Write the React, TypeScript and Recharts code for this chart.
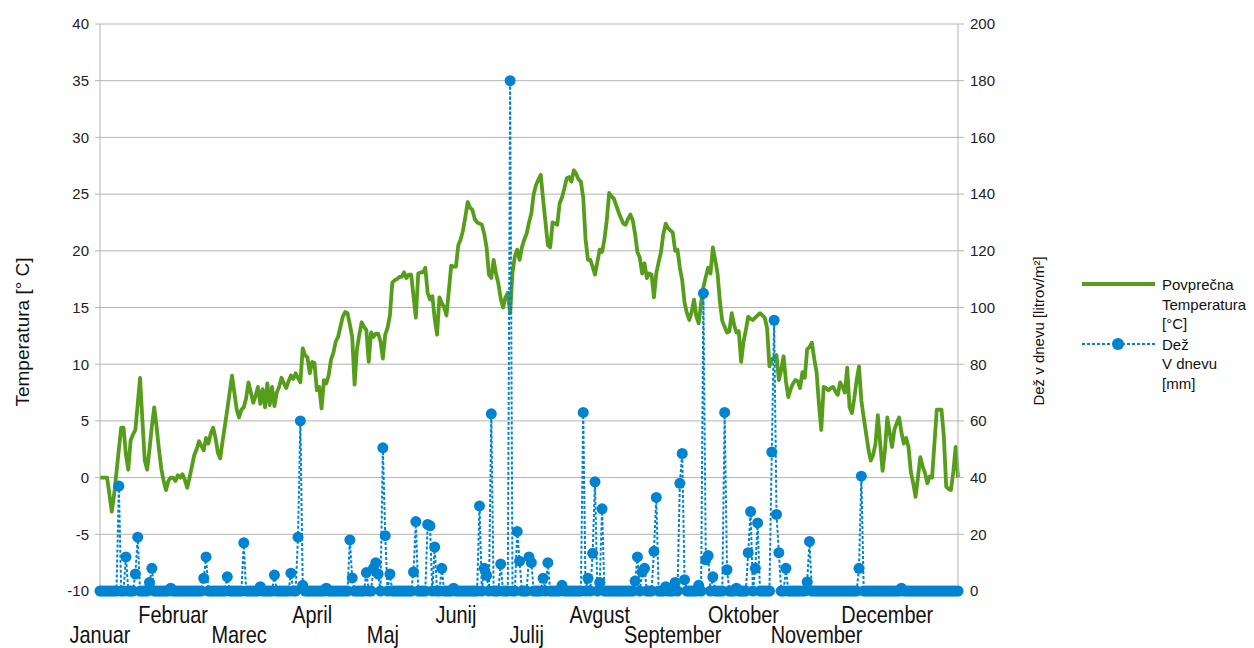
import React from 'react';
import { ComposedChart, Line, XAxis, YAxis, CartesianGrid, Legend } from 'recharts';

const monthNames = ['Januar', 'Februar', 'Marec', 'April', 'Maj', 'Junij', 'Julij', 'Avgust', 'September', 'Oktober', 'November', 'December'];
const monthStartDays = [0, 31, 59, 90, 120, 151, 181, 212, 243, 273, 304, 334];

const tempJan = [0, 0, 0, 0, -1.5, -3, -1.5, 0.5, 2.5, 4.4, 4.4, 2, 0.7, 3.3, 3.8, 4.2, 6.5, 8.8, 5, 1.5, 0.7, 2.5, 4.5, 6.2, 4.5, 2.5, 0.8, -0.3, -1.1, -0.3, 0];
const tempFeb = [0, -0.3, 0.2, 0, 0.3, -0.2, -0.9, 0, 1, 2, 2.5, 3.2, 2.8, 2.4, 3.5, 3, 3.9, 4.4, 3.5, 2.2, 1.7, 3.2, 4.6, 6, 7.5, 9, 7.5, 6];
const tempMar = [5.3, 6, 6.2, 7, 8.4, 7.5, 6.6, 7.2, 8, 6.5, 7.8, 6.2, 8.3, 6.4, 8, 6.3, 7.5, 8, 8.8, 8.3, 7.9, 8.5, 9, 8.7, 9.2, 8.8, 8.4, 11.4, 10.8, 10.6, 9.2];
const tempApr = [10.2, 10.1, 7.7, 8, 6.1, 8.6, 8.3, 9, 10.4, 11, 12, 12.4, 13.3, 14.2, 14.6, 14.5, 13.5, 12.4, 8.2, 11.3, 12.6, 13.7, 13.3, 13, 10.2, 12.8, 12.4, 12.7, 12.7, 12];
const tempMay = [10.5, 12.6, 13.2, 14.3, 17.2, 17.4, 17.5, 17.7, 17.7, 18.1, 17.6, 17.9, 17.9, 16, 14.1, 18, 18.1, 18.1, 18.5, 16.3, 15.7, 16, 14, 12.6, 15.9, 15.4, 15, 14.3, 16.5, 18.7, 18.6];
const tempJun = [18.6, 20.5, 21, 21.8, 23, 24.3, 23.8, 23.6, 22.8, 22.5, 22.4, 22.3, 21.5, 20.3, 17.9, 17.6, 19.2, 18, 17.1, 15.8, 15, 15.9, 16.3, 14.5, 18.1, 19.5, 20.1, 19.2, 20.3, 21];
const tempJul = [21.5, 22.5, 23.3, 25, 25.8, 26.3, 26.7, 24.5, 22.5, 20.5, 20.3, 22.5, 22.4, 22.3, 24.2, 24.7, 25.5, 26.4, 26.5, 26.1, 27.1, 26.8, 26.3, 26.1, 24.7, 21, 19.2, 19.2, 18.6, 17.9, 19];
const tempAug = [20.1, 19.9, 21, 22.7, 25.1, 24.8, 24.6, 24, 23.4, 22.9, 22.4, 22.3, 22.8, 23.2, 22.7, 21.5, 19.9, 19.4, 18, 18.9, 17.6, 18, 17.9, 15.9, 18, 19, 19.9, 21.5, 22.4, 22, 21.8];
const tempSep = [21.6, 20, 20.1, 18.5, 17.4, 15.4, 14.5, 13.9, 14.6, 15.7, 14.2, 13.6, 15.4, 16.8, 17.7, 18.5, 18, 20.3, 19.2, 18, 15.5, 13.8, 13.3, 12.8, 12.9, 14.5, 13.5, 12.8, 12.9, 10.2];
const tempOct = [12, 13, 14.2, 14, 13.9, 14.1, 14.3, 14.5, 14.3, 14.1, 13.2, 9.8, 10.4, 10.6, 10.8, 8.6, 9.5, 10.7, 8.5, 7.1, 7.8, 8.3, 8.6, 8.5, 7.9, 9.3, 8.8, 11.3, 11.5, 11.9, 10.5];
const tempNov = [9.3, 6.5, 4.2, 8, 7.9, 7.7, 7.9, 8, 7.6, 7.3, 8.4, 8, 7.5, 9.7, 6.2, 5.7, 7, 8.6, 9.8, 6.8, 5.3, 3.9, 2.5, 1.5, 2, 3, 5.5, 3, 0.6, 2.4];
const tempDec = [5.3, 4, 2.7, 4.2, 4.8, 5.3, 4, 3, 3.5, 2.7, 0.5, -0.5, -1.7, 0, 1.8, 1, 0.4, -0.5, 0.1, 0, 3, 6, 6, 6, 3.6, -0.8, -1, -1.1, 0.5, 2.7, 0];

// days (0-based day of year) with rain, and the amount in mm; all other days are 0
const rainDays = [8, 11, 15, 16, 21, 22, 30, 44, 45, 54, 61, 68, 74, 81, 84, 85, 86, 96, 106, 107, 113, 116, 117, 118, 120, 121, 123, 133, 134, 139, 140, 142, 145, 150, 161, 163, 164, 166, 170, 174, 177, 178, 182, 183, 188, 190, 196, 205, 207, 209, 210, 212, 213, 227, 228, 230, 231, 235, 236, 240, 244, 246, 247, 248, 254, 256, 257, 258, 260, 265, 266, 270, 275, 276, 278, 279, 285, 286, 287, 288, 291, 300, 301, 322, 323, 340];
const rainMm = [37, 12, 6, 19, 3, 8, 1, 4.5, 12, 5, 17, 1.5, 5.6, 6.3, 19, 60, 2, 1, 18, 4.6, 6.5, 8, 10, 6, 50.5, 19.5, 6, 6.7, 24.5, 23.5, 23, 15.5, 8, 1, 30, 8, 5.5, 62.5, 9.5, 180, 21, 10.5, 12, 10, 4.5, 10, 2, 63, 4.5, 13.3, 38.5, 3, 29, 3.5, 12, 6.7, 8, 14, 33, 1.5, 3, 38, 48.5, 4, 2, 105, 11, 12.5, 5, 63, 7.5, 1, 13.5, 28, 8, 24, 49, 95.5, 27, 13.5, 8, 3.2, 17.5, 8, 40.5, 1];

const leftTicks = [-10, -5, 0, 5, 10, 15, 20, 25, 30, 35, 40];
const rightTicks = [0, 20, 40, 60, 80, 100, 120, 140, 160, 180, 200];

const temps = [...tempJan, ...tempFeb, ...tempMar, ...tempApr, ...tempMay, ...tempJun, ...tempJul, ...tempAug, ...tempSep, ...tempOct, ...tempNov, ...tempDec];
const rainByDay: Record<number, number> = {};
rainDays.forEach((d, i) => { rainByDay[d] = rainMm[i]; });
const data = temps.map((t, i) => ({ day: i, temp: t, rain: rainByDay[i] ?? 0 }));
const dayTicks = temps.map((_, i) => i);

const GREEN = '#579d1c';
const BLUE = '#0084d1';
const GRID = '#b3b3b3';
const FONT = "'Liberation Sans', Arial, sans-serif";

const XTick = (props: any) => {
  const { x, y, payload } = props;
  const idx = monthStartDays.indexOf(payload.value);
  if (idx < 0) return <g />;
  const off = idx % 2 === 0 ? 47 : 27;
  return (
    <text
      transform={`translate(${x},${y + off}) scale(0.83,1)`}
      textAnchor="middle"
      fontSize={24}
      fontFamily={FONT}
      fill="#111"
    >
      {monthNames[idx]}
    </text>
  );
};

const LegendContent = () => (
  <svg width={176} height={125} style={{ overflow: 'visible', display: 'block' }}>
    <line x1={4} y1={12} x2={77} y2={12} stroke={GREEN} strokeWidth={4} />
    <g fontFamily={FONT} fontSize={15} fill="#111">
      <text x={84} y={12} dominantBaseline="central">Povprečna</text>
      <text x={84} y={32} dominantBaseline="central">Temperatura</text>
      <text x={84} y={51} dominantBaseline="central">[°C]</text>
      <text x={84} y={72} dominantBaseline="central">Dež</text>
      <text x={84} y={91} dominantBaseline="central">V dnevu</text>
      <text x={84} y={111} dominantBaseline="central">[mm]</text>
    </g>
    <line x1={4} y1={72} x2={77} y2={72} stroke={BLUE} strokeWidth={2} strokeDasharray="3 2" />
    <circle cx={40} cy={72} r={6} fill={BLUE} />
  </svg>
);

export default function App() {
  return (
    <div style={{ position: 'absolute', left: 0, top: 0, background: '#fff' }}>
      <ComposedChart
        width={1254}
        height={648}
        data={data}
        margin={{ top: 24, right: 196, bottom: 7, left: 40 }}
      >
        <CartesianGrid yAxisId="left" horizontal={true} vertical={false} stroke={GRID} strokeWidth={1} />
        <XAxis
          dataKey="day"
          type="number"
          domain={[0, 364]}
          ticks={dayTicks}
          interval={0}
          height={50}
          tickSize={3}
          tickMargin={2}
          stroke={GRID}
          tickLine={{ stroke: GRID }}
          tick={<XTick />}
        />
        <YAxis
          yAxisId="left"
          domain={[-10, 40]}
          ticks={leftTicks}
          width={60}
          tickSize={5}
          tickMargin={6}
          stroke={GRID}
          tick={{ fontSize: 15, fill: '#222', fontFamily: FONT }}
          label={{
            content: () => (
              <text
                x={22}
                y={332}
                transform="rotate(-90 22 332)"
                textAnchor="middle"
                dominantBaseline="central"
                fontSize={19}
                fontFamily={FONT}
                fill="#111"
              >
                Temperatura [° C]
              </text>
            ),
          }}
        />
        <YAxis
          yAxisId="right"
          orientation="right"
          domain={[0, 200]}
          ticks={rightTicks}
          width={100}
          tickSize={6}
          tickMargin={6}
          stroke={GRID}
          tick={{ fontSize: 15, fill: '#222', fontFamily: FONT, textAnchor: 'start' }}
          label={{
            content: () => (
              <text
                x={1038}
                y={331}
                transform="rotate(-90 1038 331)"
                textAnchor="middle"
                dominantBaseline="central"
                fontSize={15}
                fontFamily={FONT}
                fill="#111"
              >
                Dež v dnevu [litrov/m²]
              </text>
            ),
          }}
        />
        <Line
          yAxisId="left"
          type="linear"
          dataKey="temp"
          name="Povprečna Temperatura [°C]"
          stroke={GREEN}
          strokeWidth={3.8}
          strokeLinejoin="round"
          dot={false}
          activeDot={false}
          isAnimationActive={false}
        />
        <Line
          yAxisId="right"
          type="linear"
          dataKey="rain"
          name="Dež V dnevu [mm]"
          stroke={BLUE}
          strokeWidth={2}
          strokeDasharray="3 2"
          dot={{ r: 5.5, fill: BLUE, stroke: BLUE, strokeWidth: 0 }}
          activeDot={false}
          isAnimationActive={false}
        />
        <Legend
          layout="vertical"
          align="center"
          verticalAlign="middle"
          wrapperStyle={{ left: 1078, top: 272, width: 176, height: 125 }}
          content={<LegendContent />}
        />
      </ComposedChart>
    </div>
  );
}
